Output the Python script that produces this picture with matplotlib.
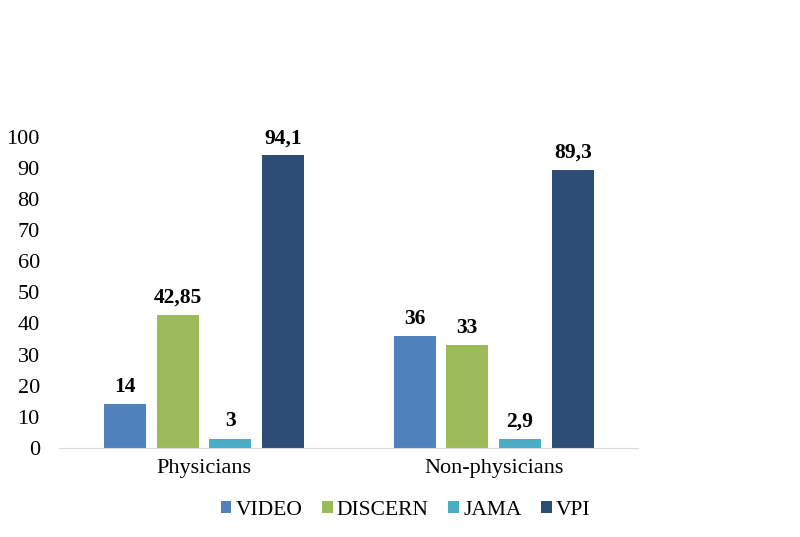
import numpy as np
import matplotlib.pyplot as plt

plt.rcParams['font.family'] = ['Liberation Serif', 'DejaVu Serif']

groups = ['Physicians', 'Non-physicians']
series = ['VIDEO', 'DISCERN', 'JAMA', 'VPI']
values = {
    'VIDEO': [14, 36],
    'DISCERN': [42.85, 33],
    'JAMA': [3, 2.9],
    'VPI': [94.1, 89.3],
}
labels = {
    'VIDEO': ['14', '36'],
    'DISCERN': ['42,85', '33'],
    'JAMA': ['3', '2,9'],
    'VPI': ['94,1', '89,3'],
}
colors = ['#4F81BD', '#9BBB59', '#4BACC6', '#2C4D75']

fig = plt.figure(figsize=(8, 5.37), dpi=100)
ax = fig.add_axes([0.074, 0.166, 0.724, 0.579])

x = np.arange(len(groups))
width = 0.145
offsets = [-0.273, -0.091, 0.091, 0.273]

for i, s in enumerate(series):
    bars = ax.bar(x + offsets[i], values[s], width, color=colors[i], label=s)
    for b, lab in zip(bars, labels[s]):
        ax.text(b.get_x() + b.get_width() / 2, b.get_height() + 2.3, lab,
                ha='center', va='bottom', fontsize=15.5, fontweight='bold')

ax.set_xlim(-0.5, 1.5)
ax.set_ylim(0, 100)
ax.set_yticks(range(0, 101, 10))
ax.set_xticks(x)
ax.set_xticklabels(groups)
ax.tick_params(axis='both', length=0, labelsize=16)
ax.tick_params(axis='x', pad=8)
ax.tick_params(axis='y', pad=14)
for side in ['top', 'right', 'left']:
    ax.spines[side].set_visible(False)
ax.spines['bottom'].set_color('#D9D9D9')

fig.legend(loc='center', bbox_to_anchor=(0.507, 0.05), ncol=4, frameon=False,
           fontsize=15.5, handlelength=0.5, handleheight=0.5, handletextpad=0.2,
           columnspacing=0.9)

fig.savefig('out.png', dpi=100)
